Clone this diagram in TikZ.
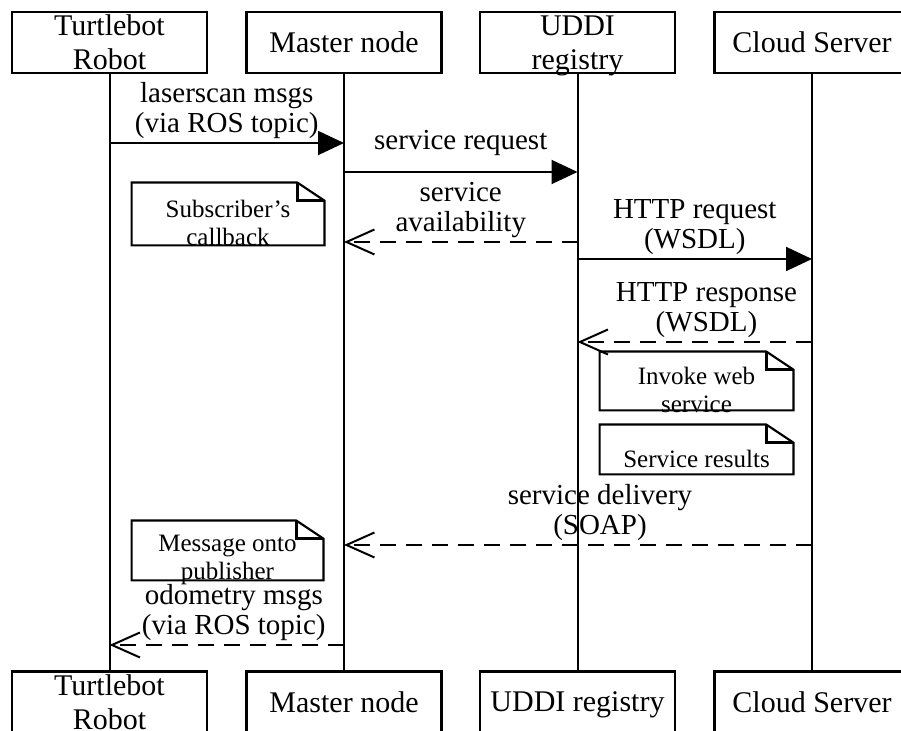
\documentclass[tikz,border=0pt]{standalone}
\usepackage{fontspec}
\setmainfont{Liberation Serif}
\usepackage{tikz}
\usetikzlibrary{arrows.meta}

\tikzset{
  actor/.style={draw, line width=1.1pt, minimum width=97.5pt, minimum height=30.5pt,
                inner sep=0pt, text depth=0pt, align=center,
                font=\fontsize{15}{17}\selectfont},
  life/.style={line width=1pt},
  call/.style={line width=1pt, -{Triangle[length=13pt, width=12pt]}},
  reply/.style={line width=1pt, dash pattern=on 8pt off 5pt,
                -{Straight Barb[length=14pt, width=12.5pt, line width=1pt]}},
  msg/.style={font=\fontsize{14.5}{15}\selectfont, align=center, inner sep=1.5pt},
  note/.style={inner sep=0pt},
  notetxt/.style={font=\fontsize{12.5}{14}\selectfont, align=center, inner sep=0pt},
  notebox/.style={line width=1.1pt, line join=miter}
}

\begin{document}
\begin{tikzpicture}[x=0.5pt, y=-0.5pt]
  \useasboundingbox (0,0) rectangle (901,731);
  \clip (0,0) rectangle (901,731);

  % participants, top and bottom
  \foreach \n/\x/\t in {rob/109.5/{Turtlebot\\Robot}, mst/344/{Master node},
                        uddi/577.5/{UDDI\\registry}, cld/812/{Cloud Server}}{
    \node[actor] (\n) at (\x,42.5) {\t};}
  \foreach \n/\x/\t in {rob/109.5/{Turtlebot\\Robot}, mst/344/{Master node},
                        uddi/577.5/{UDDI registry}, cld/812/{Cloud Server}}{
    \node[actor] (\n B) at (\x,702) {\t};
    \draw[life] (\n) -- (\n B);}

  % messages
  \foreach \from/\to/\y/\kind/\p/\dy/\t [count=\i] in {
      rob/mst/143/call/0.5/0/{laserscan msgs\\(via ROS topic)},
      mst/uddi/172/call/0.5/6/{service request},
      uddi/mst/242/reply/0.5/0/{service\\availability},
      uddi/cld/259/call/0.5/0/{HTTP request\\(WSDL)},
      cld/uddi/342/reply/0.45/0/{HTTP response\\(WSDL)},
      cld/mst/545/reply/0.453/0/{service delivery\\(SOAP)},
      mst/rob/645/reply/0.47/0/{odometry msgs\\(via ROS topic)}}{
    \coordinate (m\i s) at (\from |- 0,\y);
    \coordinate (m\i e) at (\to |- 0,\y);
    \draw[\kind] (m\i s) -- (m\i e) node[msg, pos=\p, above=\dy pt] {\t};}

  % notes
  \foreach \n/\x/\y/\w/\h/\t in {
      cb/228/214/96/31/{Subscriber's\\callback},
      inv/696.5/381/96.5/29/{Invoke web\\service},
      res/696.5/449.5/96.5/24.5/{Service results},
      pub/227.5/550.5/95.5/29.5/{Message onto\\publisher}}{
    \node[note, minimum width=\w pt, minimum height=\h pt] (\n) at (\x,\y) {};
    \node[notetxt] (\n T) at ([yshift=-4.5pt]\n.center) {\t};
    \draw[notebox] (\n.north west) -- ([xshift=-13.5pt]\n.north east)
      -- ([yshift=-9pt]\n.north east) -- (\n.south east) -- (\n.south west) -- cycle;
    \draw[notebox] ([xshift=-13.5pt]\n.north east) |- ([yshift=-9pt]\n.north east);}
\end{tikzpicture}
\end{document}
